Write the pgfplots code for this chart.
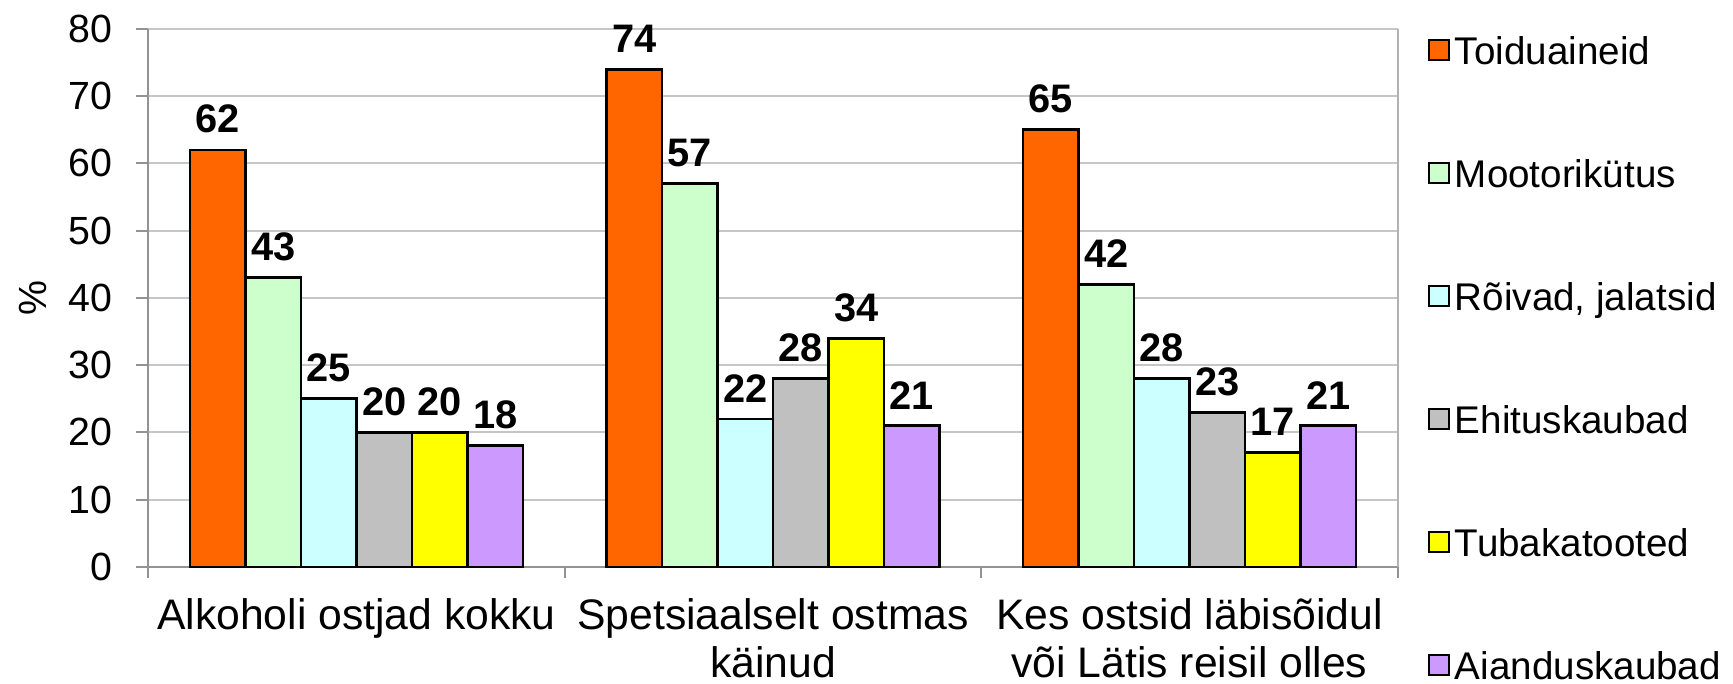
\documentclass[border=0pt]{standalone}
\usepackage{pgfplots}
\pgfplotsset{compat=1.18}
\usepackage{fontspec}
\setmainfont{Liberation Sans}
\definecolor{cOrange}{HTML}{FF6600}
\definecolor{cGreen}{HTML}{CCFFCC}
\definecolor{cCyan}{HTML}{CCFFFF}
\definecolor{cGray}{HTML}{C0C0C0}
\definecolor{cYellow}{HTML}{FFFF00}
\definecolor{cLav}{HTML}{CC99FF}
\newcommand{\fs}{\fontsize{16.3}{19}\selectfont}
\newcommand{\fcat}{\fontsize{17.7}{20}\selectfont}
\newcommand{\flab}{\fontsize{16.5}{19}\selectfont}
\newcommand{\fleg}{\fontsize{16}{19}\selectfont}
\begin{document}
\begin{tikzpicture}
\begin{axis}[
  scale only axis,
  width=518pt, height=223pt,
  xmin=-0.5, xmax=2.5,
  ymin=0, ymax=80,
  ytick={0,10,...,80},
  xtick={0,1,2},
  xticklabels={Alkoholi ostjad kokku, Spetsiaalselt ostmas\\käinud, Kes ostsid läbisõidul\\või Lätis reisil olles},
  minor xtick={-0.5,0.5,1.5,2.5},
  major x tick style={draw=none},
  minor tick length=4.6pt,
  major tick length=5pt,
  tick align=outside,
  axis lines*=left,
  axis line style={draw=gray!85, line width=0.8pt},
  tick style={draw=gray!85, line width=0.8pt},
  ymajorgrids,
  grid style={draw=gray!45, line width=0.9pt},
  /pgf/number format/assume math mode=true,
  ticklabel style={font=\fs},
  yticklabel style={xshift=-6.5pt},
  xticklabel style={font=\fcat, align=center, anchor=north, inner ysep=0.5pt, yshift=-7.5pt},
  ylabel={\%},
  ylabel style={font=\fs, yshift=2pt, text height=16pt},
  ybar=0pt,
  bar width=0.13333,
  every axis plot/.append style={draw=black, line width=1.1pt},
  nodes near coords,
  nodes near coords style={font=\bfseries\flab, yshift=3pt},
  legend style={draw=none, at={(1,1)}, anchor=north west, xshift=9.5pt, yshift=-0.8pt,
    inner ysep=0pt, nodes={text depth=0pt},
    font=\fleg, row sep=35.4pt, cells={anchor=west}},
  legend image code/.code={\draw[#1, draw=black, line width=0.7pt] (0pt,-4.1pt) rectangle (8.3pt,4.1pt);},
  clip=false,
]
\addplot[fill=cOrange, bar shift=-0.33333] coordinates {(0,62) (1,74) (2,65)};
\addplot[fill=cGreen, bar shift=-0.2] coordinates {(0,43) (1,57) (2,42)};
\addplot[fill=cCyan, bar shift=-0.066667] coordinates {(0,25) (1,22) (2,28)};
\addplot[fill=cGray, bar shift=0.066667] coordinates {(0,20) (1,28) (2,23)};
\addplot[fill=cYellow, bar shift=0.2] coordinates {(0,20) (1,34) (2,17)};
\addplot[fill=cLav, bar shift=0.33333] coordinates {(0,18) (1,21) (2,21)};
\legend{Toiduaineid, Mootorikütus, {Rõivad, jalatsid}, Ehituskaubad, Tubakatooted, Aianduskaubad}
\draw[gray!60, line width=0.8pt] (rel axis cs:1,0) -- (rel axis cs:1,1);
\path (rel axis cs:0,1) ++(0,12pt);
\end{axis}
\end{tikzpicture}
\end{document}
